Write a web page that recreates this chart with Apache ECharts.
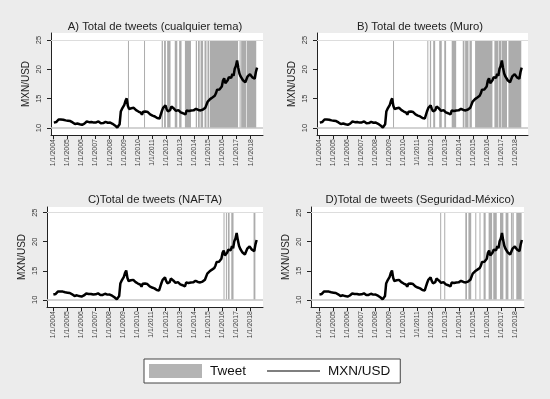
<!DOCTYPE html>
<html>
<head>
<meta charset="utf-8">
<script src="https://cdn.jsdelivr.net/npm/echarts@6/dist/echarts.min.js"></script>
<style>
html, body { margin: 0; padding: 0; background: #ececec; }
#main { width: 550px; height: 399px; }
</style>
</head>
<body>
<div id="main"></div>
<script>
// tipo de cambio MXN/USD, promedio mensual, ene-2004 .. jun-2018
var startYear = 2004;
var mxnUsd = [
  10.92, 11.03, 11.02, 11.17, 11.45, 11.42, 11.45, 11.40, 11.42, 11.44, 11.30, 11.20, // 2004
  11.24, 11.15, 11.18, 11.10, 10.95, 10.82, 10.67, 10.70, 10.78, 10.85, 10.65, 10.65, // 2005
  10.55, 10.48, 10.75, 11.05, 11.10, 11.38, 11.00, 10.90, 11.02, 10.93, 10.92, 10.85, // 2006
  10.95, 10.98, 11.12, 10.98, 10.82, 10.82, 10.84, 11.04, 11.05, 10.78, 10.90, 10.88, // 2007
  10.92, 10.78, 10.72, 10.54, 10.44, 10.33, 10.08, 10.05, 10.65, 12.80, 13.25, 13.50, // 2008
  13.95, 14.65, 15.05, 13.80, 13.25, 13.30, 13.36, 13.05, 13.44, 13.24, 13.04, 12.87, // 2009
  12.81, 12.93, 12.61, 12.26, 12.77, 12.72, 12.80, 12.76, 12.72, 12.45, 12.33, 12.40, // 2010
  12.12, 12.07, 11.97, 11.72, 11.70, 11.84, 11.62, 12.27, 12.90, 13.44, 13.75, 13.85, // 2011
  13.24, 12.85, 12.76, 13.05, 13.66, 13.95, 13.35, 13.18, 12.92, 12.88, 13.06, 12.89, // 2012
  12.67, 12.71, 12.52, 12.21, 12.30, 12.97, 12.77, 12.91, 13.07, 13.00, 13.08, 13.01, // 2013
  13.24, 13.28, 13.20, 13.08, 12.92, 13.00, 13.03, 13.15, 13.27, 13.47, 13.63, 14.51, // 2014
  14.70, 14.92, 15.22, 15.20, 15.25, 15.49, 15.92, 16.53, 16.86, 16.56, 16.62, 17.07, // 2015
  18.09, 18.47, 17.64, 17.47, 18.15, 18.65, 18.61, 18.54, 19.24, 18.89, 20.10, 20.55, // 2016
  21.50, 20.28, 19.30, 18.79, 18.76, 18.14, 17.83, 17.81, 17.84, 18.81, 18.92, 19.18, // 2017
  18.89, 18.63, 18.60, 18.40, 19.55, 20.30                                            // 2018
];

var yearTicks = [2004, 2005, 2006, 2007, 2008, 2009, 2010, 2011, 2012, 2013, 2014, 2015, 2016, 2017, 2018];
var rateTicks = [10, 15, 20, 25];

// periodos con tweets [inicio, fin] en años decimales
var tweetsA = [
  [2009.30, 2009.33], [2010.44, 2010.47], [2011.69, 2011.78], [2011.86, 2011.99],
  [2012.08, 2012.32], [2012.62, 2012.80], [2012.93, 2013.10], [2013.34, 2013.77],
  [2014.11, 2014.20], [2014.27, 2014.39], [2014.45, 2014.63], [2014.73, 2014.87],
  [2014.94, 2015.05], [2015.10, 2017.11], [2017.22, 2017.28], [2017.33, 2017.69],
  [2017.73, 2018.40]
];
var tweetsB = [
  [2009.27, 2009.31], [2011.72, 2011.75], [2011.90, 2011.99], [2012.14, 2012.28],
  [2012.57, 2012.75], [2012.93, 2013.06], [2013.46, 2013.78], [2014.25, 2014.37],
  [2014.42, 2014.66], [2014.73, 2014.90], [2015.13, 2016.37], [2016.51, 2016.80],
  [2016.84, 2017.00], [2017.03, 2017.41], [2017.51, 2018.43]
];
var tweetsC = [
  [2016.11, 2016.16], [2016.28, 2016.33], [2016.42, 2016.54], [2016.66, 2016.82],
  [2018.24, 2018.37]
];
var tweetsD = [
  [2012.64, 2012.67], [2012.93, 2012.96], [2014.43, 2014.55], [2014.65, 2014.85],
  [2015.14, 2015.17], [2015.44, 2015.48], [2015.73, 2015.88], [2016.09, 2016.34],
  [2016.42, 2016.67], [2016.90, 2017.14], [2017.30, 2017.50], [2017.68, 2017.72],
  [2017.78, 2017.88], [2018.06, 2018.44]
];

var titles = [
  'A) Total de tweets (cualquier tema)',
  'B) Total de tweets (Muro)',
  'C)Total de tweets (NAFTA)',
  'D)Total de tweets (Seguridad-México)'
];

// posición de cada panel (px) y rangos de los ejes
var panels = [
  { tweets: tweetsA, left: 51, top: 33, width: 212, height: 102, xMin: 2003.84, xMax: 2018.88, yMin: 8.81, yMax: 26.19, tx: 155, ty: 20 },
  { tweets: tweetsB, left: 317, top: 33, width: 211, height: 102, xMin: 2003.84, xMax: 2018.91, yMin: 8.81, yMax: 26.19, tx: 420, ty: 20 },
  { tweets: tweetsC, left: 47, top: 207, width: 216, height: 100, xMin: 2003.59, xMax: 2018.91, yMin: 8.77, yMax: 25.98, tx: 155, ty: 193 },
  { tweets: tweetsD, left: 311, top: 207, width: 213, height: 100, xMin: 2003.44, xMax: 2018.61, yMin: 8.77, yMax: 25.98, tx: 420, ty: 193 }
];

var font = 'Liberation Sans, Arial, sans-serif';
var lineData = mxnUsd.map(function (v, i) { return [startYear + (i + 0.5) / 12, v]; });
var barLow = rateTicks[0], barHigh = rateTicks[rateTicks.length - 1];

function renderTweet(params, api) {
  var p0 = api.coord([api.value(0), barHigh]);
  var p1 = api.coord([api.value(1), barLow]);
  return {
    type: 'rect',
    shape: { x: p0[0], y: p0[1], width: Math.max(1, p1[0] - p0[0]), height: p1[1] - p0[1] },
    style: { fill: '#acacac' }
  };
}

var option = {
  animation: false,
  backgroundColor: '#ececec',
  textStyle: { fontFamily: font },
  title: [],
  grid: [],
  xAxis: [],
  yAxis: [],
  series: [],
  legend: {
    left: 144, top: 359,
    selectedMode: false,
    itemWidth: 53, itemHeight: 14, itemGap: 21,
    padding: [5, 10, 5, 5],
    backgroundColor: '#fff', borderColor: '#444', borderWidth: 1,
    textStyle: { fontSize: 13.5, color: '#111', fontFamily: font, padding: [0, 0, 0, 3] },
    data: [
      { name: 'Tweet', icon: 'rect', itemStyle: { color: '#b4b4b4' } },
      { name: 'MXN/USD', icon: 'path://M0,0 L60,0 L60,1 L0,1 Z', itemStyle: { color: '#000' } }
    ]
  }
};

panels.forEach(function (p, i) {
  option.title.push({
    text: titles[i], left: p.tx, top: p.ty + 1, textAlign: 'center', padding: 0,
    textStyle: { fontSize: 11.3, fontWeight: 'normal', color: '#222', fontFamily: font }
  });
  option.grid.push({
    left: p.left, top: p.top, width: p.width, height: p.height,
    show: true, backgroundColor: '#fff', borderWidth: 0
  });
  option.xAxis.push({
    gridIndex: i, type: 'value', min: p.xMin, max: p.xMax,
    axisLine: { onZero: false, lineStyle: { color: '#222', width: 1 } },
    axisTick: { customValues: yearTicks, length: 4, lineStyle: { color: '#222' } },
    axisLabel: {
      customValues: yearTicks, rotate: 90, fontSize: 7, margin: 4, color: '#444',
      formatter: function (v) { return '1/1/' + v; }
    },
    splitLine: { show: false }
  });
  option.yAxis.push({
    gridIndex: i, type: 'value', min: p.yMin, max: p.yMax,
    name: 'MXN/USD', nameLocation: 'middle', nameGap: 20, nameRotate: 90,
    nameTextStyle: { fontSize: 10, color: '#222' },
    axisLine: { show: true, onZero: false, lineStyle: { color: '#222', width: 1 } },
    axisTick: { show: true, customValues: rateTicks, length: 4, lineStyle: { color: '#222' } },
    axisLabel: { customValues: rateTicks, rotate: 90, fontSize: 7.5, margin: 8, color: '#333' },
    splitLine: { show: false }
  });
  option.series.push({
    name: 'Tweet', type: 'custom', xAxisIndex: i, yAxisIndex: i,
    renderItem: renderTweet, encode: { x: [0, 1] }, data: p.tweets,
    itemStyle: { color: '#b4b4b4' },
    markLine: {
      silent: true, symbol: ['none', 'none'], label: { show: false },
      data: [
        { yAxis: barHigh, lineStyle: { color: '#dddddd', width: 1, type: 'solid' } },
        { yAxis: barLow, lineStyle: { color: '#c4c4c4', width: 1.5, type: 'solid' } }
      ]
    }
  });
  option.series.push({
    name: 'MXN/USD', type: 'line', xAxisIndex: i, yAxisIndex: i,
    data: lineData, symbol: 'none', z: 5,
    lineStyle: { color: '#000', width: 2.5 }, itemStyle: { color: '#000' }
  });
});

var chart = echarts.init(document.getElementById('main'));
chart.setOption(option);
</script>
</body>
</html>
